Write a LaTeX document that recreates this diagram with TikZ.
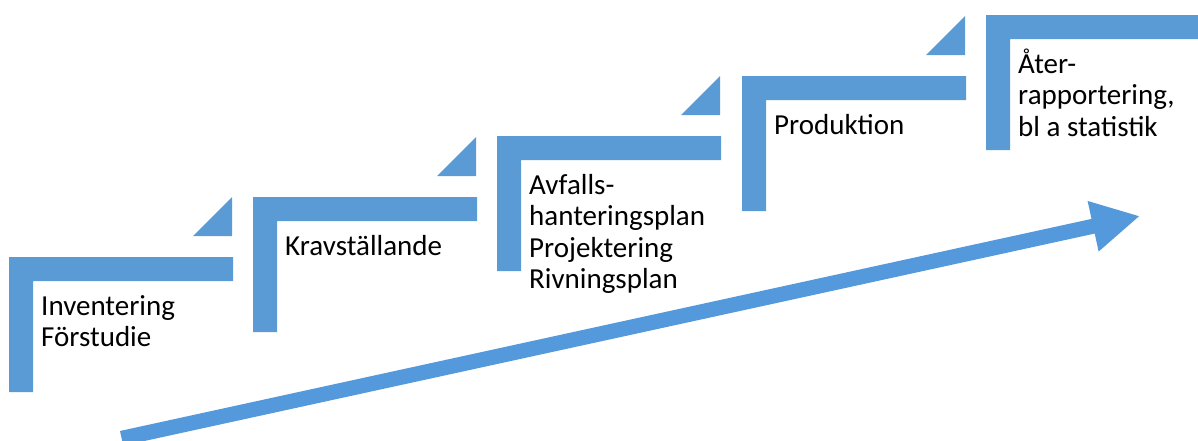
\documentclass[tikz,border=0pt]{standalone}
\usepackage{fontspec}
\setmainfont{Carlito}
\usetikzlibrary{arrows.meta}
\definecolor{stepblue}{HTML}{5B9BD5}
\definecolor{arrowblue}{HTML}{5499DC}
\tikzset{
  stepshape/.style={fill=stepblue, draw=none},
  steptext/.style={anchor=base west, inner sep=0pt, align=left, font=\fontsize{29}{31.5}\selectfont, text=black},
}
\newcommand{\mystep}[4]{% #1 = left, #2 = top, #3 = name, #4 = number of text lines
  \fill[stepshape] (#1,#2) -- ++(224,0) -- ++(0,24) -- ++(-200,0) -- ++(0,111) -- ++(-24,0) -- cycle;
  \fill[stepshape] (#1+223,#2-60) -- (#1+223,#2-21) -- (#1+184,#2-21) -- cycle;
  \coordinate (#3) at (#1+32,#2+58+31.5*#4-31.5);
}
\begin{document}
\begin{tikzpicture}[x=1pt,y=-1pt]
\useasboundingbox (0,0) rectangle (1198,440);
\clip (0,0) rectangle (1198,440);
\mystep{9}{257}{s1}{2}
\mystep{253}{197}{s2}{1}
\mystep{497}{136}{s3}{4}
\mystep{742}{76}{s4}{1}
\mystep{986}{15}{s5}{3}
\node[steptext] (t1) at (s1) {Inventering\\Förstudie};
\node[steptext] (t2) at (s2) {Kravställande};
\node[steptext] (t3) at (s3) {Avfalls-\\hanteringsplan\\Projektering\\Rivningsplan};
\node[steptext] (t4) at (s4) {Produktion};
\node[steptext] (t5) at (s5) {Åter-\\rapportering,\\bl a statistik};
\coordinate (as) at (121.6,438.3);
\coordinate (at) at (1140,216);
\draw[arrowblue, line width=15pt, -{Triangle[length=48pt,width=48pt]}] (as) -- (at);
\end{tikzpicture}
\end{document}
